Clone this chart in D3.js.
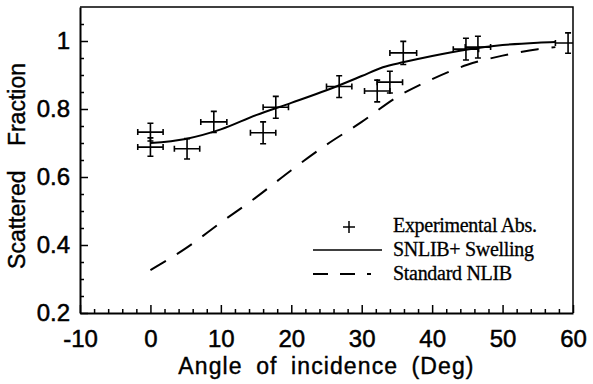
<!DOCTYPE html>
<html>
<head>
<meta charset="utf-8">
<script src="https://cdn.jsdelivr.net/npm/d3@7"></script>
<style>
  body { margin: 0; background: #fff; }
  svg { display: block; }
</style>
</head>
<body>
<div id="chart"></div>
<script>
var canvasWidth = 593;
var canvasHeight = 384;

/* experimental points (angle, fraction) with error bars */
var expAngle    = [0, 0, 5.2, 9, 16, 17.8, 26.8, 32.2, 34, 35.9, 44.8, 46.5, 59.3];
var expFraction = [0.732, 0.688, 0.683, 0.762, 0.730, 0.805, 0.866, 0.853, 0.879, 0.965, 0.976, 0.982, 0.994];
var expAngleErr    = [1.8, 1.8, 1.8, 1.85, 1.8, 1.8, 1.8, 1.8, 1.8, 1.9, 1.8, 1.8, 1.8];
var expFractionErr = [0.026, 0.027, 0.03, 0.031, 0.032, 0.032, 0.032, 0.032, 0.032, 0.034, 0.032, 0.032, 0.03];

/* SNLIB+ Swelling (solid) */
var swellAngle    = [0, 5, 10, 15, 20, 25, 30, 33, 36, 40, 45, 50, 55, 57.5];
var swellFraction = [0.700, 0.712, 0.740, 0.782, 0.818, 0.855, 0.897, 0.923, 0.938, 0.956, 0.975, 0.988, 0.995, 0.997];

/* Standard NLIB (dashed) */
var nlibAngle    = [0, 5, 10, 15, 20, 25, 30, 35, 40, 45, 50, 55, 57.5];
var nlibFraction = [0.326, 0.390, 0.466, 0.540, 0.620, 0.695, 0.762, 0.835, 0.888, 0.930, 0.957, 0.976, 0.982];

/* axes */
var xTicks = [-10, 0, 10, 20, 30, 40, 50, 60];
var xTickLabels = ["-10", "0", "10", "20", "30", "40", "50", "60"];
var yTicks = [0.2, 0.4, 0.6, 0.8, 1];
var yTickLabels = ["0.2", "0.4", "0.6", "0.8", "1"];

var legendLabels = ["Experimental Abs.", "SNLIB+ Swelling", "Standard NLIB"];

var margin = {top: 7, right: 20, bottom: 71, left: 80};
var width = canvasWidth - margin.left - margin.right;
var height = canvasHeight - margin.top - margin.bottom;

var svg = d3.select("#chart").append("svg")
    .attr("width", canvasWidth)
    .attr("height", canvasHeight);

var g = svg.append("g")
    .attr("transform", "translate(" + margin.left + "," + margin.top + ")");

var xScale = d3.scaleLinear().domain([-10, 60]).range([0, width]);
var yScale = d3.scaleLinear().domain([0.2, 1.1]).range([height, 0]);

/* minor ticks */
var xMinor = d3.range(-10, 60.01, 2).filter(function (v) { return v % 10 !== 0; });
var yMinor = d3.range(0.2, 1.1, 0.05).filter(function (v) { return Math.abs(v * 5 - Math.round(v * 5)) > 1e-6; });

g.append("g")
    .attr("transform", "translate(0," + height + ")")
    .call(d3.axisBottom(xScale).tickValues(xMinor).tickSizeInner(-4).tickSizeOuter(0).tickFormat(""))
    .call(function (a) { a.select(".domain").remove(); });

g.append("g")
    .call(d3.axisLeft(yScale).tickValues(yMinor).tickSizeInner(-4).tickSizeOuter(0).tickFormat(""))
    .call(function (a) { a.select(".domain").remove(); });

/* X axis */
g.append("g")
    .attr("transform", "translate(0," + height + ")")
    .call(d3.axisBottom(xScale).tickValues(xTicks).tickSizeInner(-8).tickSizeOuter(0).tickPadding(17)
        .tickFormat(function (d, i) { return xTickLabels[i]; }));

/* Y axis */
g.append("g")
    .call(d3.axisLeft(yScale).tickValues(yTicks).tickSizeInner(-8).tickSizeOuter(0).tickPadding(10)
        .tickFormat(function (d, i) { return yTickLabels[i]; }));

svg.selectAll(".tick line").attr("stroke", "#000").attr("stroke-width", 1.5);
svg.selectAll(".domain").attr("stroke", "#000").attr("stroke-width", 2);
svg.selectAll(".tick text")
    .attr("fill", "#000")
    .attr("stroke", "#000")
    .attr("stroke-width", 0.5)
    .style("font-family", "'Liberation Sans', Arial, sans-serif")
    .style("font-size", "24px");

/* top and right border */
g.append("path")
    .attr("d", "M0,0H" + width + "V" + height)
    .attr("fill", "none")
    .attr("stroke", "#000")
    .attr("stroke-width", 1.5);

/* axis titles */
svg.append("text")
    .attr("x", margin.left + width / 2)
    .attr("y", 374)
    .attr("text-anchor", "middle")
    .attr("stroke", "#000")
    .attr("stroke-width", 0.4)
    .style("font-family", "'Liberation Sans', Arial, sans-serif")
    .style("font-size", "23px")
    .style("letter-spacing", "1.1px")
    .style("word-spacing", "6px")
    .text("Angle of incidence (Deg)");

svg.append("text")
    .attr("transform", "translate(25,166) rotate(-90)")
    .attr("text-anchor", "middle")
    .attr("stroke", "#000")
    .attr("stroke-width", 0.4)
    .style("font-family", "'Liberation Sans', Arial, sans-serif")
    .style("font-size", "23px")
    .style("word-spacing", "18px")
    .text("Scattered Fraction");

/* curves */
var line = d3.line()
    .x(function (d) { return xScale(d[0]); })
    .y(function (d) { return yScale(d[1]); })
    .curve(d3.curveMonotoneX);

g.append("path")
    .datum(d3.zip(swellAngle, swellFraction))
    .attr("fill", "none")
    .attr("stroke", "#000")
    .attr("stroke-width", 2)
    .attr("d", line);

g.append("path")
    .datum(d3.zip(nlibAngle, nlibFraction))
    .attr("fill", "none")
    .attr("stroke", "#000")
    .attr("stroke-width", 2)
    .attr("stroke-dasharray", "18,13")
    .attr("d", line);

/* experimental points: crosses with capped error bars */
var pts = d3.zip(expAngle, expFraction, expAngleErr, expFractionErr);
var cap = 3;
var pg = g.append("g").attr("stroke", "#000").attr("stroke-width", 1.6).attr("fill", "none");

pts.forEach(function (p) {
    var cx = xScale(p[0]), cy = yScale(p[1]);
    var x0 = Math.max(xScale(p[0] - p[2]), 0), x1 = Math.min(xScale(p[0] + p[2]), width);
    var y0 = yScale(p[1] + p[3]), y1 = yScale(p[1] - p[3]);
    var path = d3.path();
    path.moveTo(x0, cy); path.lineTo(x1, cy);
    path.moveTo(cx, y0); path.lineTo(cx, y1);
    path.moveTo(cx - cap, y0); path.lineTo(cx + cap, y0);
    path.moveTo(cx - cap, y1); path.lineTo(cx + cap, y1);
    path.moveTo(x0, cy - cap); path.lineTo(x0, cy + cap);
    if (x1 < width) { path.moveTo(x1, cy - cap); path.lineTo(x1, cy + cap); }
    pg.append("path").attr("d", path.toString());
});

/* legend */
var legend = svg.append("g").attr("transform", "translate(313,227)");
var rowGap = 24;

legend.append("path")
    .attr("d", "M36,-6V6M30,0H42")
    .attr("stroke", "#000").attr("stroke-width", 1.5);
legend.append("line")
    .attr("x1", 0).attr("x2", 69).attr("y1", rowGap - 1).attr("y2", rowGap - 1)
    .attr("stroke", "#000").attr("stroke-width", 1.5);
legend.append("line")
    .attr("x1", 0).attr("x2", 58).attr("y1", 2 * rowGap - 1).attr("y2", 2 * rowGap - 1)
    .attr("stroke", "#000").attr("stroke-width", 2)
    .attr("stroke-dasharray", "15,12");

legend.selectAll("text.lbl")
    .data(legendLabels)
    .join("text")
    .attr("class", "lbl")
    .attr("x", 80)
    .attr("y", function (d, i) { return 5 + i * rowGap; })
    .attr("stroke", "#000")
    .attr("stroke-width", 0.3)
    .style("font-family", "'Liberation Serif', 'Times New Roman', serif")
    .style("font-size", "20px")
    .style("letter-spacing", "-0.3px")
    .text(function (d) { return d; });
</script>
</body>
</html>
